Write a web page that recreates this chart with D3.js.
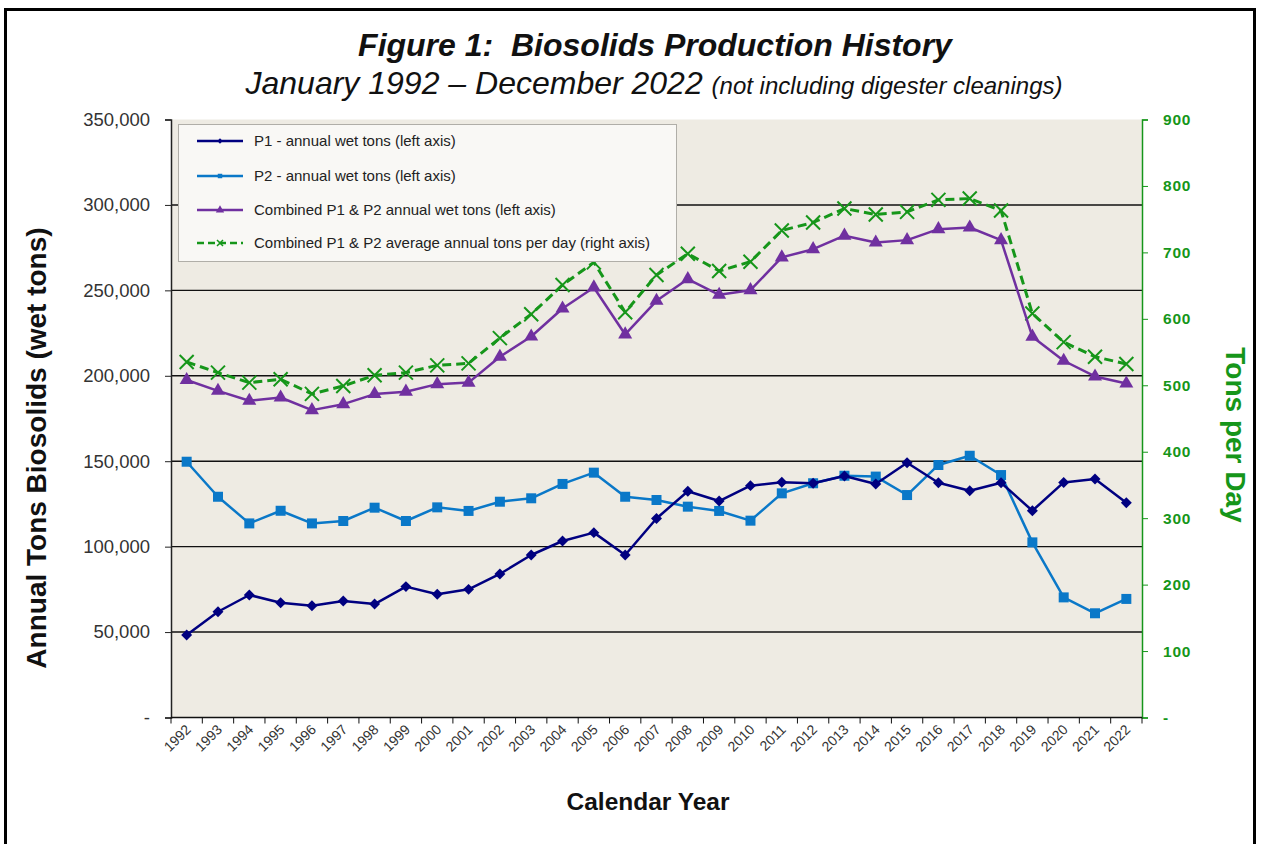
<!DOCTYPE html>
<html><head><meta charset="utf-8">
<script src="https://cdn.jsdelivr.net/npm/d3@7"></script>
<style>
html,body{margin:0;padding:0;background:#fff;}
svg text{font-family:"Liberation Sans",Arial,sans-serif;}
</style></head>
<body>
<svg id="chart" width="1264" height="844"></svg>
<script>
// ---------------- data ----------------
const years = d3.range(1992, 2023).map(String);
const p1Tons = [48300, 61900, 71700, 67200, 65400, 68200, 66400, 76600, 72100, 75000, 84000, 95100, 103300, 108200, 95100, 116500, 132400, 126700, 135700, 137700, 137100, 141300, 136700, 149100, 137400, 132700, 137400, 121000, 137600, 139600, 125700];
const p2Tons = [149700, 129200, 113600, 121000, 113600, 115000, 122800, 115000, 123000, 120900, 126300, 128300, 136700, 143300, 129200, 127300, 123400, 120900, 115200, 131200, 137100, 141500, 141000, 130200, 147800, 153200, 141900, 102500, 70300, 61000, 69400];
const combinedTons = [197500, 191200, 185400, 187300, 179900, 183400, 189300, 190700, 195100, 196000, 211100, 223000, 239400, 251700, 224200, 243900, 256600, 247400, 250100, 269300, 274100, 282000, 278000, 279400, 285800, 286800, 279400, 222900, 208800, 199600, 195500];
const tonsPerDay = [535, 519, 504, 509, 487, 499, 515, 519, 530, 533, 571, 607, 651, 685, 610, 666, 698, 672, 686, 733, 745, 766, 757, 761, 779, 781, 763, 608, 565, 543, 532];
const leftTicks = [0, 50000, 100000, 150000, 200000, 250000, 300000, 350000];
const rightTicks = [0, 100, 200, 300, 400, 500, 600, 700, 800, 900];
const legendLabels = [
  "P1 - annual wet tons (left axis)",
  "P2 - annual wet tons (left axis)",
  "Combined P1 & P2 annual wet tons (left axis)",
  "Combined P1 & P2 average annual tons per day (right axis)"
];

// ---------------- layout ----------------
const svg = d3.select("#chart");
const M = {left: 171, right: 1142, top: 119.5, bottom: 717.5};
const C = {p1: "#000080", p2: "#0a78c8", comb: "#7030a0", green: "#16961a"};

// outer frame
svg.append("rect").attr("x", 5.5).attr("y", 9.5).attr("width", 1249).attr("height", 850)
  .attr("fill", "#fff").attr("stroke", "#000").attr("stroke-width", 3);

const x = d3.scaleBand().domain(years).range([M.left, M.right]);
const yL = d3.scaleLinear().domain([0, 350000]).range([M.bottom, M.top]);
const yR = d3.scaleLinear().domain([0, 900]).range([M.bottom, M.top]);
const cx = d => x(d) + x.bandwidth() / 2;

// plot background
svg.append("rect").attr("x", M.left).attr("y", M.top).attr("width", M.right - M.left)
  .attr("height", M.bottom - M.top).attr("fill", "#eeebe3");

// gridlines
svg.append("g").selectAll("line").data(leftTicks.filter(t => t > 0 && t < 350000)).join("line")
  .attr("x1", M.left).attr("x2", M.right).attr("y1", d => yL(d)).attr("y2", d => yL(d))
  .attr("stroke", "#111").attr("stroke-width", 1.4);

// left axis
const fmtL = d => d === 0 ? "-" : d3.format(",")(d);
const gL = svg.append("g").attr("transform", `translate(${M.left},0)`)
  .call(d3.axisLeft(yL).tickValues(leftTicks).tickFormat(fmtL).tickSize(6).tickPadding(15));
gL.select(".domain").attr("stroke", "#222").attr("stroke-width", 1.5);
gL.selectAll(".tick line").attr("stroke", "#222");
gL.selectAll("text").attr("font-size", 18.5).attr("fill", "#333").attr("font-family", "Liberation Sans, Arial");

// right axis
const gR = svg.append("g").attr("transform", `translate(${M.right},0)`)
  .call(d3.axisRight(yR).tickValues(rightTicks).tickFormat(d => d === 0 ? "-" : d).tickSize(6).tickPadding(15));
gR.select(".domain").attr("stroke", C.green).attr("stroke-width", 1.5);
gR.selectAll(".tick line").attr("stroke", C.green);
gR.selectAll("text").attr("font-size", 15.5).attr("font-weight", "bold").attr("fill", C.green)
  .attr("font-family", "Liberation Sans, Arial").attr("letter-spacing", 0.8);

// bottom axis (ticks at band edges)
const gB = svg.append("g").attr("transform", `translate(0,${M.bottom})`);
gB.append("line").attr("x1", M.left).attr("x2", M.right).attr("stroke", "#111").attr("stroke-width", 1.5);
gB.selectAll("line.tk").data(years.concat(["end"])).join("line").attr("class", "tk")
  .attr("x1", d => d === "end" ? M.right : x(d)).attr("x2", d => d === "end" ? M.right : x(d))
  .attr("y1", 0).attr("y2", 6).attr("stroke", "#111");
gB.selectAll("text").data(years).join("text")
  .attr("transform", d => `translate(${cx(d) + 5},${13}) rotate(-45)`)
  .attr("text-anchor", "end").attr("font-size", 14).attr("fill", "#333").text(d => d);

// axis titles
svg.append("text").attr("transform", `translate(46,448) rotate(-90)`)
  .attr("text-anchor", "middle").attr("font-size", 28).attr("font-weight", "bold").attr("fill", "#111")
  .text("Annual Tons Biosolids (wet tons)");
svg.append("text").attr("transform", `translate(1226,435) rotate(90)`)
  .attr("text-anchor", "middle").attr("font-size", 28).attr("font-weight", "bold").attr("fill", C.green)
  .text("Tons per Day");
svg.append("text").attr("x", 648).attr("y", 810).attr("text-anchor", "middle")
  .attr("font-size", 24.5).attr("font-weight", "bold").attr("fill", "#111").text("Calendar Year");

// titles
svg.append("text").attr("x", 655).attr("y", 56).attr("text-anchor", "middle")
  .attr("font-size", 32).attr("font-weight", "bold").attr("font-style", "italic").attr("fill", "#111")
  .style("white-space", "pre").text("Figure 1:  Biosolids Production History");
const sub = svg.append("text").attr("x", 654).attr("y", 94).attr("text-anchor", "middle")
  .attr("font-style", "italic").attr("fill", "#111").style("white-space", "pre");
sub.append("tspan").attr("font-size", 32).text("January 1992 \u2013 December 2022 ");
sub.append("tspan").attr("font-size", 24).text("(not including digester cleanings)");

// markers
const diamond = d3.symbol(d3.symbolSquare, 60)();
const square = d3.symbol(d3.symbolSquare, 100)();
const tri = d3.symbol(d3.symbolTriangle, 85)();
const xMark = s => `M${-s},${-s}L${s},${s}M${-s},${s}L${s},${-s}`;

function series(vals, yScale, color, opts) {
  const line = d3.line().x((d, i) => cx(years[i])).y(d => yScale(d));
  svg.append("path").datum(vals).attr("d", line).attr("fill", "none").attr("stroke", color)
    .attr("stroke-width", opts.width).attr("stroke-dasharray", opts.dash || null).attr("stroke-linejoin", "round");
  const g = svg.append("g");
  g.selectAll("path").data(vals).join("path")
    .attr("transform", (d, i) => `translate(${cx(years[i])},${yScale(d)})${opts.rot ? " rotate(45)" : ""}`)
    .attr("d", opts.marker)
    .attr("fill", opts.stroke ? "none" : color)
    .attr("stroke", color).attr("stroke-width", opts.stroke ? 2 : 0);
}

series(tonsPerDay, yR, C.green, {width: 3, dash: "9,5", marker: xMark(7), stroke: true});
series(combinedTons, yL, C.comb, {width: 2.5, marker: tri});
series(p2Tons, yL, C.p2, {width: 2.5, marker: square});
series(p1Tons, yL, C.p1, {width: 2.5, marker: diamond, rot: true});

// legend
const lg = svg.append("g");
lg.append("rect").attr("x", 178.5).attr("y", 124.5).attr("width", 498).attr("height", 137)
  .attr("fill", "#f9f8f5").attr("stroke", "#b0aea8").attr("stroke-width", 1);
const legendItems = [
  {color: C.p1, marker: d3.symbol(d3.symbolSquare, 14)(), rot: true},
  {color: C.p2, marker: d3.symbol(d3.symbolSquare, 20)()},
  {color: C.comb, marker: d3.symbol(d3.symbolTriangle, 30)()},
  {color: C.green, marker: xMark(3), dash: "7,4", stroke: true}
];
const rowY = [141, 176, 210, 243];
legendItems.forEach((it, i) => {
  const yy = rowY[i];
  lg.append("line").attr("x1", 197).attr("x2", 243).attr("y1", yy).attr("y2", yy)
    .attr("stroke", it.color).attr("stroke-width", 2.5).attr("stroke-dasharray", it.dash || null);
  lg.append("path").attr("transform", `translate(220,${yy})${it.rot ? " rotate(45)" : ""}`).attr("d", it.marker)
    .attr("fill", it.stroke ? "none" : it.color).attr("stroke", it.color).attr("stroke-width", it.stroke ? 1.5 : 0);
  lg.append("text").attr("x", 254).attr("y", yy + 5).attr("font-size", 15).attr("fill", "#222")
    .text(legendLabels[i]);
});
</script>
</body></html>
